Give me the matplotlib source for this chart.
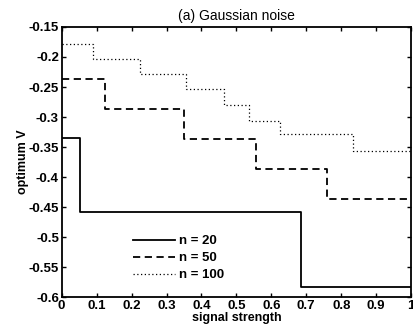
import matplotlib
matplotlib.use('Agg')
import matplotlib.pyplot as plt
import numpy as np

# step break points (signal strength) and optimum V levels
n20_x = [0, 0.052, 0.685, 1.0]
n20_v = [-0.335, -0.458, -0.583, -0.583]
n50_x = [0, 0.123, 0.35, 0.555, 0.76, 1.0]
n50_v = [-0.237, -0.287, -0.337, -0.387, -0.437, -0.437]
n100_x = [0, 0.09, 0.225, 0.355, 0.465, 0.535, 0.625, 0.835, 1.0]
n100_v = [-0.178, -0.203, -0.228, -0.253, -0.28, -0.307, -0.328, -0.357, -0.357]

xticks = [0, 0.1, 0.2, 0.3, 0.4, 0.5, 0.6, 0.7, 0.8, 0.9, 1]
xtick_labels = ['0', '0.1', '0.2', '0.3', '0.4', '0.5', '0.6', '0.7', '0.8', '0.9', '1']
yticks = [-0.6, -0.55, -0.5, -0.45, -0.4, -0.35, -0.3, -0.25, -0.2, -0.15]
ytick_labels = ['-0.6', '-0.55', '-0.5', '-0.45', '-0.4', '-0.35', '-0.3', '-0.25', '-0.2', '-0.15']

plt.rcParams['font.family'] = ['Liberation Sans', 'DejaVu Sans']

fig = plt.figure(figsize=(4.14, 3.29), dpi=100)
ax = fig.add_axes([0.149, 0.097, 0.844, 0.821])

ax.plot(n20_x, n20_v, color='black', lw=1.3, drawstyle='steps-post', label='n = 20')
ax.plot(n50_x, n50_v, color='black', lw=1.3, ls=(0, (4, 2.5)), drawstyle='steps-post', label='n = 50')
ax.plot(n100_x, n100_v, color='black', lw=0.9, ls=(0, (1, 2)), drawstyle='steps-post', label='n = 100')

ax.set_xlim(0, 1)
ax.set_ylim(-0.6, -0.15)
ax.set_xticks(xticks)
ax.set_xticklabels(xtick_labels)
ax.set_yticks(yticks)
ax.set_yticklabels(ytick_labels)
ax.tick_params(direction='in', top=True, right=True, length=3, width=1,
               labelsize=9.5, pad=2)
for lab in ax.get_xticklabels() + ax.get_yticklabels():
    lab.set_fontweight('bold')
for sp in ax.spines.values():
    sp.set_linewidth(1.3)

ax.set_title('(a) Gaussian noise', fontsize=10, pad=5)
ax.set_xlabel('signal strength', fontsize=9, fontweight='bold', labelpad=0)
ax.set_ylabel('optimum V', fontsize=9, fontweight='bold', labelpad=0)

leg = ax.legend(loc='lower left', bbox_to_anchor=(0.17, 0.015), frameon=False,
                fontsize=9.5, handlelength=3.2, handletextpad=0.3,
                labelspacing=0.35)
for t in leg.get_texts():
    t.set_fontweight('bold')

fig.savefig('out.png', dpi=100)
